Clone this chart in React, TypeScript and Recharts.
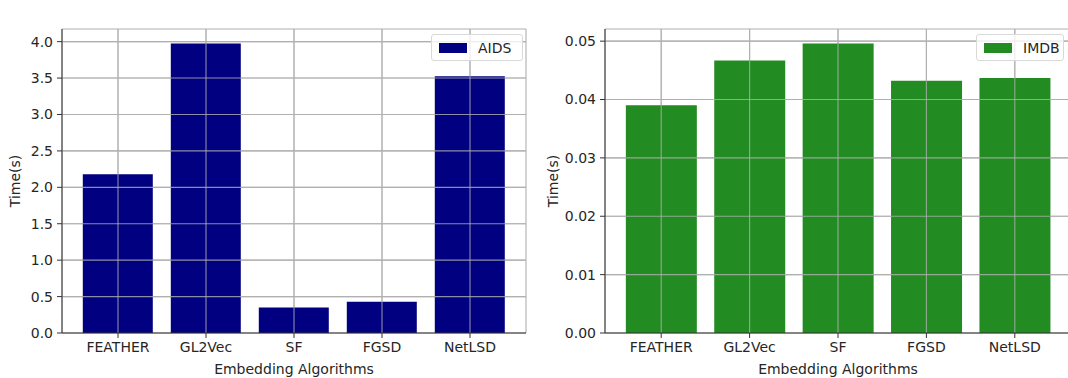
import React from 'react';
import { BarChart, Bar, XAxis, YAxis, CartesianGrid, Legend, Label, ReferenceLine } from 'recharts';

const categories = ['FEATHER', 'GL2Vec', 'SF', 'FGSD', 'NetLSD'];
const aidsTimes = [2.18, 3.975, 0.35, 0.43, 3.525];
const imdbTimes = [0.039, 0.0467, 0.0496, 0.0432, 0.0437];
const aidsTicks = [0, 0.5, 1, 1.5, 2, 2.5, 3, 3.5, 4];
const imdbTicks = [0, 0.01, 0.02, 0.03, 0.04, 0.05];

const FONT = '"DejaVu Sans", sans-serif';
const TXT = '#262626';
const FRAME = '#333333';
const GRID = '#b0b0b0';

type PanelProps = {
  values: number[];
  color: string;
  seriesName: string;
  ticks: number[];
  digits: number;
  chartWidth: number;
  yAxisWidth: number;
  rightMargin: number;
  yLabelX: number;
  legendLeft: number;
  legendWidth: number;
};

function Panel(p: PanelProps) {
  const data = categories.map((c, i) => ({ name: c, value: p.values[i] }));
  const legendContent = () => (
    <div
      style={{
        boxSizing: 'border-box',
        width: p.legendWidth,
        height: 27,
        border: '1px solid #d9d9d9',
        borderRadius: 3,
        background: 'rgba(255,255,255,0.8)',
        display: 'flex',
        alignItems: 'center',
        paddingLeft: 7,
        fontFamily: FONT,
        fontSize: 14,
        color: TXT,
      }}
    >
      <span style={{ display: 'inline-block', width: 28, height: 10, background: p.color, marginRight: 11 }} />
      <span>{p.seriesName}</span>
    </div>
  );
  return (
    <BarChart
      width={p.chartWidth}
      height={378}
      data={data}
      margin={{ top: 29, right: p.rightMargin, bottom: 0, left: 0 }}
      barCategoryGap="10%"
    >
      <CartesianGrid stroke={GRID} strokeWidth={1.1} vertical horizontal />
      <XAxis
        dataKey="name"
        type="category"
        height={45}
        padding={{ left: 12, right: 12 }}
        tickSize={5}
        tickMargin={4}
        tickLine={{ stroke: FRAME }}
        axisLine={{ stroke: FRAME }}
        tick={{ fill: TXT, fontSize: 14, fontFamily: FONT }}
        interval={0}
      >
        <Label
          content={(props: any) => {
            const vb = props.viewBox;
            return (
              <text x={vb.x + vb.width / 2} y={vb.y + 41} textAnchor="middle" fill={TXT} fontSize={14} fontFamily={FONT}>
                Embedding Algorithms
              </text>
            );
          }}
        />
      </XAxis>
      <XAxis
        xAxisId="top"
        dataKey="name"
        orientation="top"
        height={0}
        tick={false}
        tickLine={false}
        axisLine={{ stroke: FRAME }}
      >
        <Label
          content={(props: any) => {
            const vb = props.viewBox;
            return (
              <text x={vb.x + vb.width / 2} y={vb.y - 7} textAnchor="middle" fill={TXT} fontSize={16.5} fontFamily={FONT}>
                Efficiency Evaluation
              </text>
            );
          }}
        />
      </XAxis>
      <YAxis
        type="number"
        width={p.yAxisWidth}
        domain={[0, (dataMax: number) => dataMax * 1.05]}
        ticks={p.ticks}
        interval={0}
        tickSize={5}
        tickMargin={4}
        tickLine={{ stroke: FRAME }}
        axisLine={{ stroke: FRAME }}
        tick={{ fill: TXT, fontSize: 14, fontFamily: FONT }}
        tickFormatter={(v: number) => v.toFixed(p.digits)}
      >
        <Label
          content={(props: any) => {
            const vb = props.viewBox;
            const x = p.yLabelX;
            const y = vb.y + vb.height / 2;
            return (
              <text
                x={x}
                y={y}
                transform={`rotate(-90 ${x} ${y})`}
                textAnchor="middle"
                dominantBaseline="central"
                fill={TXT}
                fontSize={14}
                fontFamily={FONT}
              >
                Time(s)
              </text>
            );
          }}
        />
      </YAxis>
      <YAxis yAxisId="r" orientation="right" width={0} tick={false} tickLine={false} axisLine={{ stroke: FRAME }} />
      <Legend
        layout="horizontal"
        verticalAlign="middle"
        align="center"
        content={legendContent}
        wrapperStyle={{ top: 34, left: p.legendLeft, width: p.legendWidth, height: 27 }}
      />
      <Bar dataKey="value" name={p.seriesName} fill={p.color} isAnimationActive={false} />
      {p.ticks.slice(1).map((t) => (
        <ReferenceLine key={'h' + t} y={t} stroke={GRID} strokeOpacity={0.8} strokeWidth={1.1} />
      ))}
      {categories.map((c) => (
        <ReferenceLine key={'v' + c} x={c} stroke={GRID} strokeOpacity={0.8} strokeWidth={1.1} />
      ))}
    </BarChart>
  );
}

export default function App() {
  return (
    <div style={{ position: 'absolute', left: 0, top: 0, width: 1068, height: 378, background: '#fff', overflow: 'hidden' }}>
      <div style={{ position: 'absolute', left: 0, top: 0, width: 534, height: 378 }}>
        <Panel
          values={aidsTimes}
          color="#000080"
          seriesName="AIDS"
          ticks={aidsTicks}
          digits={1}
          chartWidth={534}
          yAxisWidth={62}
          rightMargin={8}
          yLabelX={15}
          legendLeft={431}
          legendWidth={92}
        />
      </div>
      <div style={{ position: 'absolute', left: 534, top: 0, width: 537, height: 378 }}>
        <Panel
          values={imdbTimes}
          color="#228b22"
          seriesName="IMDB"
          ticks={imdbTicks}
          digits={2}
          chartWidth={537}
          yAxisWidth={71}
          rightMargin={0}
          yLabelX={19}
          legendLeft={442}
          legendWidth={88}
        />
      </div>
    </div>
  );
}
